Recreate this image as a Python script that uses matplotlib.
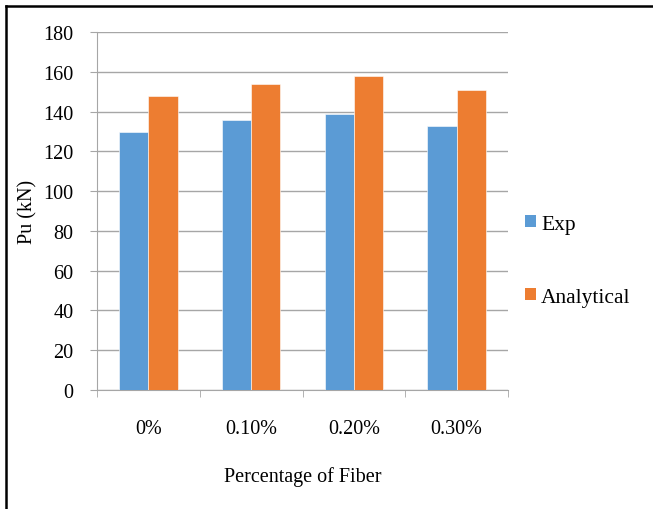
import matplotlib.pyplot as plt
import numpy as np
from matplotlib.patches import Patch

plt.rcParams['font.family'] = ['Liberation Serif', 'DejaVu Serif']

fibers = ["0%", "0.10%", "0.20%", "0.30%"]
exp = [130, 136, 139, 133]
analytical = [148, 154, 158, 151]

blue = "#5b9bd5"
orange = "#ed7d31"
grey = "#a6a6a6"
fs = 14.5

fig = plt.figure(figsize=(6.53, 5.10), dpi=100)
ax = fig.add_axes([0.1485, 0.2333, 0.6295, 0.7017])

x = np.arange(len(fibers))
w = 0.285
ax.bar(x - w / 2, exp, w, color=blue, edgecolor="white", linewidth=0.4, zorder=3)
ax.bar(x + w / 2, analytical, w, color=orange, edgecolor="white", linewidth=0.4, zorder=3)

ax.set_xlim(-0.5, len(fibers) - 0.5)
ax.set_ylim(0, 180)
ax.set_yticks(np.arange(0, 181, 20))
ax.yaxis.grid(True, color=grey, linewidth=1.0, zorder=0)

ax.set_xticks(x)
ax.set_xticklabels(fibers, fontsize=fs)
ax.set_xticks(np.arange(-0.5, len(fibers), 1.0), minor=True)
ax.tick_params(axis="x", which="major", length=0, pad=21)
ax.tick_params(axis="x", which="minor", length=5, color=grey)
ax.tick_params(axis="y", length=5, color=grey, labelsize=fs, pad=12)

for s in ["top", "right"]:
    ax.spines[s].set_visible(False)
for s in ["left", "bottom"]:
    ax.spines[s].set_color(grey)

ax.set_ylabel("Pu (kN)", fontsize=fs, labelpad=4)
ax.set_xlabel("Percentage of Fiber", fontsize=fs, labelpad=20)

handles = [Patch(facecolor=blue), Patch(facecolor=orange)]
fig.legend(handles, ["Exp", "Analytical"], loc="center left",
           bbox_to_anchor=(0.804, 0.487), frameon=False, fontsize=15.5,
           handlelength=0.5, handleheight=0.5, handletextpad=0.25,
           labelspacing=2.5, borderpad=0, borderaxespad=0)

# partial frame drawn along the left and top edges
fig.add_artist(plt.Line2D([0.0085, 0.0085], [0, 0.987], color="black", linewidth=1.8,
                          transform=fig.transFigure))
fig.add_artist(plt.Line2D([0.0085, 1.0], [0.987, 0.987], color="black", linewidth=1.8,
                          transform=fig.transFigure))

fig.savefig("out.png", dpi=100)
